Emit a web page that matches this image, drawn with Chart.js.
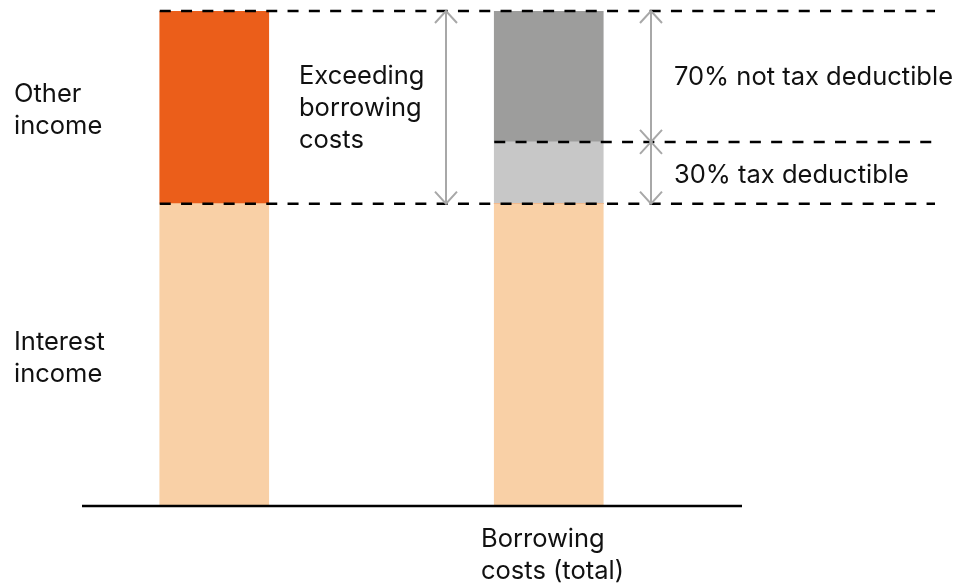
<!DOCTYPE html>
<html>
<head>
<meta charset="utf-8">
<script src="https://cdn.jsdelivr.net/npm/chart.js@4/dist/chart.umd.min.js"></script>
<style>
    html, body { margin: 0; padding: 0; background: #fff; }
    #wrap { width: 970px; height: 583px; }
</style>
</head>
<body>
<div id="wrap"><canvas id="chart" width="970" height="583"></canvas></div>
<script>
// =======================================
// Interest barrier diagram
// =======================================

const categories = ['Income', 'Borrowing costs (total)'];
const interestIncome = [61, 61];
const otherIncome = [39, 0];
const taxDeductible = [0, 12.5];
const notTaxDeductible = [0, 26.5];

const FONT = '25.5px Inter, "Liberation Sans", sans-serif';
const TEXT_COLOR = '#111';
const ARROW_COLOR = '#a8a8a8';

// Draw a vertical double-headed arrow
function drawArrow(ctx, x, y1, y2) {
    ctx.save();
    ctx.strokeStyle = ARROW_COLOR;
    ctx.lineWidth = 2;
    ctx.beginPath();
    ctx.moveTo(x, y1);
    ctx.lineTo(x, y2);
    ctx.moveTo(x - 11, y1 + 12);
    ctx.lineTo(x, y1);
    ctx.lineTo(x + 11, y1 + 12);
    ctx.moveTo(x - 11, y2 - 12);
    ctx.lineTo(x, y2);
    ctx.lineTo(x + 11, y2 - 12);
    ctx.stroke();
    ctx.restore();
}

function drawDashed(ctx, x1, x2, y) {
    ctx.save();
    ctx.strokeStyle = '#000';
    ctx.lineWidth = 2.5;
    ctx.setLineDash([11, 10.3]);
    ctx.beginPath();
    ctx.moveTo(x1, y);
    ctx.lineTo(x2, y);
    ctx.stroke();
    ctx.restore();
}

function drawLines(ctx, lines, x, y) {
    lines.forEach((line, i) => ctx.fillText(line, x, y + i * 32));
}

const annotations = {
    id: 'annotations',
    afterDatasetsDraw(chart) {
        const ctx = chart.ctx;
        const yScale = chart.scales.y;
        const bar1 = chart.getDatasetMeta(0).data[0];
        const bar2 = chart.getDatasetMeta(0).data[1];
        const left1 = bar1.x - bar1.width / 2;
        const left2 = bar2.x - bar2.width / 2;

        const yBase = yScale.getPixelForValue(0);
        const yTop = yScale.getPixelForValue(interestIncome[0] + otherIncome[0]);
        const yInt = yScale.getPixelForValue(interestIncome[1]);
        const yDed = yScale.getPixelForValue(interestIncome[1] + taxDeductible[1]);

        // baseline
        ctx.save();
        ctx.strokeStyle = '#000';
        ctx.lineWidth = 2.5;
        ctx.beginPath();
        ctx.moveTo(82, yBase + 1);
        ctx.lineTo(742, yBase + 1);
        ctx.stroke();
        ctx.restore();

        drawDashed(ctx, left1, 935, yTop);
        drawDashed(ctx, left1, 935, yInt);
        drawDashed(ctx, left2, 935, yDed);

        drawArrow(ctx, 446, yTop, yInt);
        drawArrow(ctx, 651, yTop, yDed);
        drawArrow(ctx, 651, yDed, yInt);

        ctx.save();
        ctx.font = FONT;
        ctx.fillStyle = TEXT_COLOR;
        ctx.textAlign = 'left';
        ctx.textBaseline = 'alphabetic';
        drawLines(ctx, ['Other', 'income'], 14, 102);
        drawLines(ctx, ['Interest', 'income'], 14, 350);
        drawLines(ctx, ['Exceeding', 'borrowing', 'costs'], 299, 84);
        drawLines(ctx, ['70% not tax deductible'], 674, 85);
        drawLines(ctx, ['30% tax deductible'], 674, 183);
        drawLines(ctx, ['Borrowing', 'costs (total)'], 481, 547);
        ctx.restore();
    }
};

new Chart(document.getElementById('chart'), {
    type: 'bar',
    data: {
        labels: categories,
        datasets: [
            { label: 'Interest income', data: interestIncome, backgroundColor: '#f9d0a6' },
            { label: 'Other income', data: otherIncome, backgroundColor: '#eb5e1a' },
            { label: '30% tax deductible', data: taxDeductible, backgroundColor: '#c7c7c7' },
            { label: '70% not tax deductible', data: notTaxDeductible, backgroundColor: '#9d9d9c' }
        ]
    },
    options: {
        responsive: false,
        animation: false,
        datasets: { bar: { barThickness: 109, borderWidth: 0 } },
        layout: { padding: { left: 47, right: 254, top: 11, bottom: 78 } },
        plugins: {
            legend: { display: false },
            tooltip: { enabled: false }
        },
        scales: {
            x: { stacked: true, display: false },
            y: { stacked: true, display: false, min: 0, max: 100 }
        }
    },
    plugins: [annotations]
});
</script>
</body>
</html>
